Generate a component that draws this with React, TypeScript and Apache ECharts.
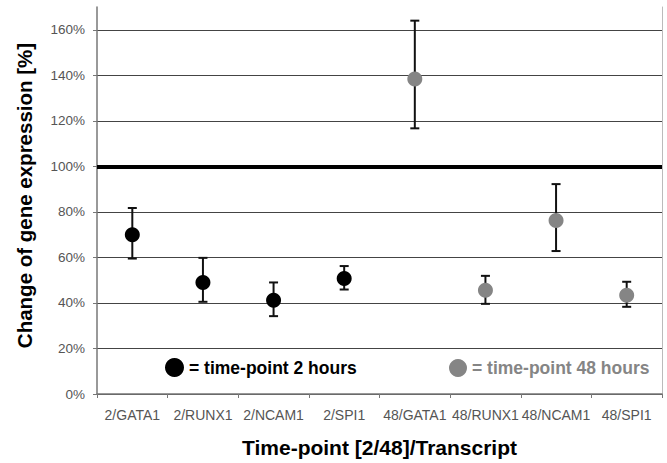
import React, { useEffect, useRef } from "react";
import * as echarts from "echarts";

const categories = [
  "2/GATA1", "2/RUNX1", "2/NCAM1", "2/SPI1",
  "48/GATA1", "48/RUNX1", "48/NCAM1", "48/SPI1",
];

// 2-hour time-point (first four categories)
const hours2Index = [0, 1, 2, 3];
const hours2Values = [70, 49, 41.2, 50.7];
const hours2Upper = [81.7, 59.8, 49, 56.2];
const hours2Lower = [59.5, 40.5, 34.2, 45.9];

// 48-hour time-point (last four categories)
const hours48Index = [4, 5, 6, 7];
const hours48Values = [138.4, 45.6, 76.2, 43.4];
const hours48Upper = [164, 51.9, 92.2, 49.3];
const hours48Lower = [116.7, 39.6, 62.8, 38.3];

const FONT = "'Liberation Sans', Arial, sans-serif";
const GRAY = "#858585";

export default function App() {
  const ref = useRef<HTMLDivElement>(null);

  useEffect(() => {
    if (!ref.current) return;
    const chart = echarts.init(ref.current, undefined, { renderer: "svg" });

    const seriesData = (idx: number[], vals: number[]) =>
      categories.map((_, i) => {
        const k = idx.indexOf(i);
        return k >= 0 ? vals[k] : "-";
      });

    const errorData = [
      ...hours2Index.map((c, k) => [c, hours2Lower[k], hours2Upper[k]]),
      ...hours48Index.map((c, k) => [c, hours48Lower[k], hours48Upper[k]]),
    ];

    chart.setOption({
      animation: false,
      backgroundColor: "#fff",
      textStyle: { fontFamily: FONT },
      grid: {
        left: 97,
        right: 5,
        top: 7,
        bottom: 67,
        show: false,
      },
      legend: [
        {
          data: ["time-point 2 hours"],
          left: 160,
          top: 353,
          itemWidth: 19,
          itemHeight: 19,
          icon: "circle",
          formatter: "= {name}",
          textStyle: { fontSize: 17.5, fontWeight: "bold", color: "#000", fontFamily: FONT },
        },
        {
          data: ["time-point 48 hours"],
          left: 444,
          top: 354,
          itemWidth: 18,
          itemHeight: 18,
          icon: "circle",
          formatter: "= {name}",
          textStyle: { fontSize: 17.5, fontWeight: "bold", color: GRAY, fontFamily: FONT },
        },
      ],
      xAxis: [
        {
          type: "category",
          data: categories,
          boundaryGap: true,
          name: "Time-point [2/48]/Transcript",
          nameLocation: "middle",
          nameGap: 43,
          nameTextStyle: { fontSize: 21, fontWeight: "bold", color: "#000", fontFamily: FONT },
          axisLine: { show: true, lineStyle: { color: "#777", width: 1.5 } },
          axisTick: { show: true, length: 4, lineStyle: { color: "#777" } },
          axisLabel: { interval: 0, fontSize: 14, color: "#555", margin: 14, fontFamily: FONT },
          splitLine: { show: false },
          z: 2,
        },
        {
          type: "category",
          data: categories,
          position: "top",
          axisLine: { show: true, lineStyle: { color: "#bbb", width: 1 } },
          axisTick: { show: false },
          axisLabel: { show: false },
          splitLine: { show: false },
        },
      ],
      yAxis: [
        {
          type: "value",
          min: 0,
          max: 170,
          interval: 20,
          name: "Change of gene expression [%]",
          nameLocation: "middle",
          nameGap: 62,
          nameTextStyle: {
            fontSize: 20.5,
            fontWeight: "bold",
            color: "#000",
            fontFamily: FONT,
            padding: [0, 0, 0, 10],
          },
          axisLine: { show: true, lineStyle: { color: "#777", width: 1.5 } },
          axisTick: { show: true, length: 4, lineStyle: { color: "#777" } },
          axisLabel: {
            formatter: "{value}%",
            fontSize: 13.5,
            color: "#555",
            margin: 12,
            showMaxLabel: false,
            fontFamily: FONT,
          },
          splitLine: { show: true, showMaxLine: false, lineStyle: { color: "#444", width: 1, type: "solid" } },
          z: 2,
        },
        {
          type: "value",
          min: 0,
          max: 170,
          position: "right",
          axisLine: { show: true, lineStyle: { color: "#bbb", width: 1 } },
          axisTick: { show: false },
          axisLabel: { show: false },
          splitLine: { show: false },
        },
      ],
      series: [
        {
          type: "custom",
          name: "error",
          data: errorData,
          encode: { x: 0, y: [1, 2] },
          z: 3,
          silent: true,
          renderItem: (params: any, api: any) => {
            const c = api.value(0);
            const lo = api.coord([c, api.value(1)]);
            const hi = api.coord([c, api.value(2)]);
            const hw = 4.5;
            const style = { stroke: "#111", lineWidth: 2 };
            return {
              type: "group",
              children: [
                { type: "line", shape: { x1: lo[0], y1: lo[1], x2: hi[0], y2: hi[1] }, style },
                { type: "line", shape: { x1: hi[0] - hw, y1: hi[1], x2: hi[0] + hw, y2: hi[1] }, style },
                { type: "line", shape: { x1: lo[0] - hw, y1: lo[1], x2: lo[0] + hw, y2: lo[1] }, style },
              ],
            };
          },
        },
        {
          type: "scatter",
          name: "time-point 2 hours",
          data: seriesData(hours2Index, hours2Values),
          symbol: "circle",
          symbolSize: 15,
          itemStyle: { color: "#000", opacity: 1 },
          z: 5,
          markLine: {
            silent: true,
            symbol: "none",
            label: { show: false },
            lineStyle: { color: "#000", width: 4, type: "solid" },
            data: [{ yAxis: 100 }],
          },
        },
        {
          type: "scatter",
          name: "time-point 48 hours",
          data: seriesData(hours48Index, hours48Values),
          symbol: "circle",
          symbolSize: 15,
          itemStyle: { color: GRAY, opacity: 1 },
          z: 5,
        },
      ],
    });

    return () => chart.dispose();
  }, []);

  return (
    <div
      ref={ref}
      style={{ position: "fixed", left: 0, top: 0, width: 667, height: 463 }}
    />
  );
}
